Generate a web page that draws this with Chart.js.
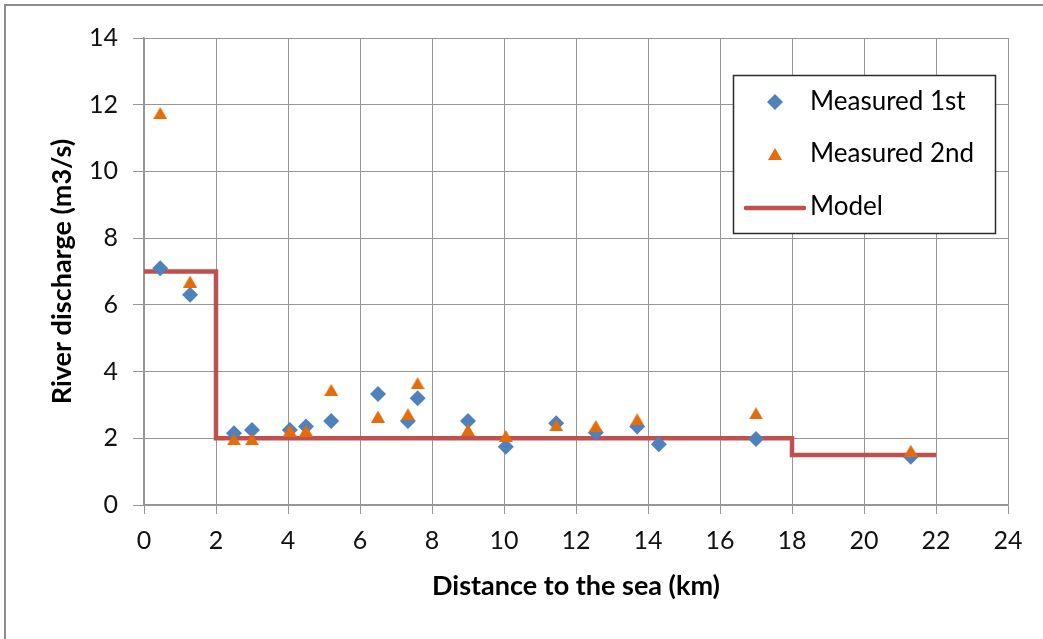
<!DOCTYPE html>
<html>
<head>
<meta charset="utf-8">
<script src="https://cdn.jsdelivr.net/npm/chart.js@4.4.1/dist/chart.umd.min.js"></script>
<style>
  html, body { margin: 0; padding: 0; background: #fff; width: 1043px; height: 639px; overflow: hidden; }
  #frame { position: absolute; left: 4px; top: 4px; width: 1037px; height: 633px;
           border-left: 2px solid #8c8c8c; border-top: 2px solid #8c8c8c; }
  #wrap { position: absolute; left: 0; top: 0; width: 1043px; height: 639px; }
</style>
</head>
<body>
<div id="frame"></div>
<div id="wrap"><canvas id="c" width="1043" height="639"></canvas></div>
<script>
// First survey: distance to the sea (km) and discharge (m3/s)
const distance1st  = [0.45, 1.28, 2.5, 3.0, 4.05, 4.5, 5.2, 6.5, 7.33, 7.6, 9.0, 10.05, 11.45, 12.55, 13.7, 14.3, 17.0, 21.3];
const discharge1st = [7.1, 6.3, 2.15, 2.25, 2.25, 2.35, 2.52, 3.33, 2.52, 3.2, 2.52, 1.75, 2.45, 2.17, 2.35, 1.82, 1.98, 1.45];

// Second survey
const distance2nd  = [0.45, 1.28, 2.5, 3.0, 4.05, 4.5, 5.2, 6.5, 7.33, 7.6, 9.0, 10.05, 11.45, 12.55, 13.7, 17.0, 21.3];
const discharge2nd = [11.75, 6.7, 1.97, 1.97, 2.23, 2.23, 3.45, 2.65, 2.72, 3.65, 2.25, 2.07, 2.39, 2.37, 2.57, 2.75, 1.63];

// Model: piecewise-constant discharge, each level starts at the given distance
const modelDistance  = [0, 2, 18, 22];
const modelDischarge = [7, 2, 1.5, 1.5];

// Axis ticks and labels
const xTickValues = [0, 2, 4, 6, 8, 10, 12, 14, 16, 18, 20, 22, 24];
const yTickValues = [0, 2, 4, 6, 8, 10, 12, 14];
const seriesNames = ['Measured 1st', 'Measured 2nd', 'Model'];
const xAxisTitle = 'Distance to the sea (km)';
const yAxisTitle = 'River discharge (m3/s)';

const BLUE = '#4F81BD';
const ORANGE = '#E46C0A';
const RED = '#C0504D';
const GRID = '#969696';
const FONT = 'Lato, "Open Sans", sans-serif';

// Triangle marker centred on its bounding box
function makeTriangle(w, h, color) {
  const cv = document.createElement('canvas');
  cv.width = w; cv.height = h;
  const g = cv.getContext('2d');
  g.fillStyle = color;
  g.beginPath();
  g.moveTo(w / 2, 0);
  g.lineTo(w, h);
  g.lineTo(0, h);
  g.closePath();
  g.fill();
  return cv;
}
const triangleMark = makeTriangle(14, 12, ORANGE);

const toPoints = (xs, ys) => xs.map((x, i) => ({ x: x, y: ys[i] }));

// Boxed legend in the upper right of the plot
const boxLegend = {
  id: 'boxLegend',
  afterDatasetsDraw(chart) {
    const ctx = chart.ctx;
    const left = 733, top = 75, w = 263, h = 159;
    ctx.save();
    ctx.fillStyle = '#ffffff';
    ctx.fillRect(left, top, w, h);
    ctx.strokeStyle = '#2b2b2b';
    ctx.lineWidth = 1.5;
    ctx.strokeRect(left + 0.5, top + 0.5, w - 1, h - 1);

    const markX = 775, textX = 810;
    const rows = [102, 154, 207];
    // diamond
    ctx.fillStyle = BLUE;
    ctx.beginPath();
    ctx.moveTo(markX - 8, rows[0]);
    ctx.lineTo(markX, rows[0] - 8);
    ctx.lineTo(markX + 8, rows[0]);
    ctx.lineTo(markX, rows[0] + 8);
    ctx.closePath();
    ctx.fill();
    // triangle
    ctx.drawImage(triangleMark, markX - 7, rows[1] - 6);
    // line
    ctx.strokeStyle = RED;
    ctx.lineWidth = 4.5;
    ctx.lineCap = 'round';
    ctx.beginPath();
    ctx.moveTo(746, rows[2] + 1);
    ctx.lineTo(804, rows[2] + 1);
    ctx.stroke();

    ctx.fillStyle = '#000';
    ctx.font = '26px ' + FONT;
    ctx.textAlign = 'left';
    ctx.textBaseline = 'middle';
    seriesNames.forEach((name, i) => ctx.fillText(name, textX, rows[i]));
    ctx.restore();
  }
};

new Chart(document.getElementById('c'), {
  type: 'scatter',
  data: {
    datasets: [
      {
        label: seriesNames[1],
        data: toPoints(distance2nd, discharge2nd),
        pointStyle: triangleMark,
        backgroundColor: ORANGE,
        borderColor: ORANGE,
        order: 0
      },
      {
        label: seriesNames[0],
        data: toPoints(distance1st, discharge1st),
        pointStyle: 'rectRot',
        pointRadius: 8,
        pointBorderWidth: 0,
        backgroundColor: BLUE,
        borderColor: BLUE,
        order: 1
      },
      {
        label: seriesNames[2],
        data: toPoints(modelDistance, modelDischarge),
        showLine: true,
        stepped: 'before',
        borderColor: RED,
        borderWidth: 4.5,
        pointRadius: 0,
        fill: false,
        order: 2
      }
    ]
  },
  options: {
    responsive: false,
    animation: false,
    devicePixelRatio: 1,
    layout: { padding: { left: 0, top: 38, right: 35, bottom: 0 } },
    plugins: {
      legend: { display: false },
      tooltip: { enabled: false }
    },
    scales: {
      x: {
        type: 'linear',
        min: 0, max: 24,
        afterBuildTicks: (s) => { s.ticks = xTickValues.map(v => ({ value: v })); },
        afterFit: (s) => { s.height = 134; },
        grid: { color: GRID, lineWidth: 1, tickLength: 9, drawTicks: true },
        border: { color: GRID, width: 1.5 },
        ticks: {
          color: '#111',
          font: { family: FONT, size: 25 },
          padding: 12,
          maxRotation: 0,
          autoSkip: false
        },
        title: {
          display: true,
          text: xAxisTitle,
          color: '#000',
          font: { family: FONT, size: 27, weight: 'bold' },
          padding: { top: 0, bottom: 37 }
        }
      },
      y: {
        type: 'linear',
        min: 0, max: 14,
        afterBuildTicks: (s) => { s.ticks = yTickValues.map(v => ({ value: v })); },
        afterFit: (s) => { s.width = 144; },
        grid: { color: GRID, lineWidth: 1, tickLength: 11, drawTicks: true },
        border: { color: GRID, width: 1.5 },
        ticks: {
          color: '#111',
          font: { family: FONT, size: 25 },
          padding: 15,
          autoSkip: false
        },
        title: {
          display: true,
          text: yAxisTitle,
          color: '#000',
          font: { family: FONT, size: 27, weight: 'bold' },
          padding: { top: 46, bottom: 0 }
        }
      }
    }
  },
  plugins: [boxLegend]
});
</script>
</body>
</html>
